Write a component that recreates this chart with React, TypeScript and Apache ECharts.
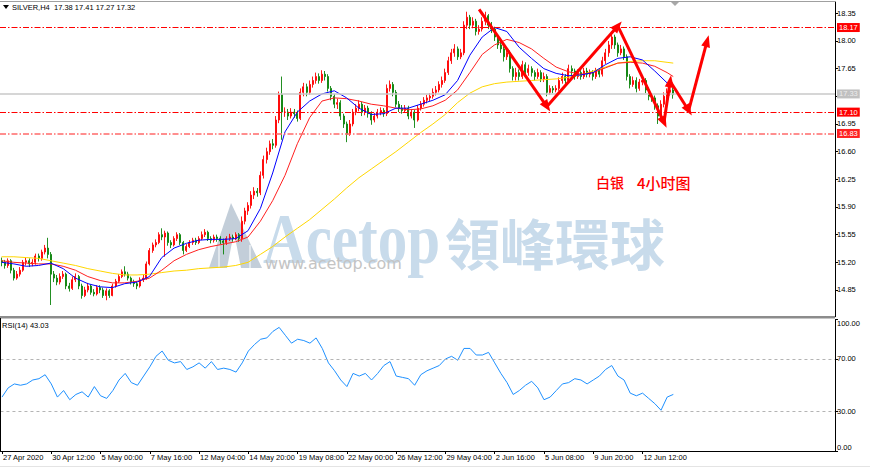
import React, { useEffect, useRef } from 'react';
import * as echarts from 'echarts';

// ---------- data ----------
const TIME_LABELS = ['27 Apr 2020', '30 Apr 12:00', '5 May 00:00', '7 May 16:00', '12 May 04:00', '14 May 20:00', '19 May 08:00', '22 May 00:00', '26 May 12:00', '29 May 04:00', '2 Jun 16:00', '5 Jun 08:00', '9 Jun 20:00', '12 Jun 12:00'];
const LABEL_EVERY = 16;
const TOTAL_SLOTS = 271;

const OPEN = [
  15.22,15.20,15.16,15.22,15.10,15.00,15.05,15.10,15.20,15.22,
  15.18,15.20,15.28,15.25,15.33,15.38,15.30,15.05,15.00,14.95,
  15.02,15.05,14.90,14.87,14.98,15.02,14.90,14.78,14.85,14.90,
  14.82,14.80,14.88,14.85,14.78,14.84,14.78,14.90,14.96,15.02,
  15.08,15.05,15.00,14.95,14.93,14.90,14.98,15.00,15.18,15.35,
  15.42,15.45,15.55,15.52,15.57,15.45,15.42,15.50,15.55,15.45,
  15.35,15.40,15.45,15.48,15.45,15.50,15.55,15.58,15.50,15.48,
  15.52,15.50,15.47,15.45,15.50,15.52,15.50,15.55,15.50,15.72,
  15.85,15.92,16.05,16.10,16.08,16.30,16.50,16.60,16.70,16.68,
  17.00,17.32,17.10,17.10,17.05,17.10,17.08,17.02,17.35,17.42,
  17.35,17.45,17.50,17.55,17.50,17.58,17.55,17.40,17.30,17.20,
  17.22,17.05,16.95,16.82,16.95,17.10,17.15,17.20,17.10,17.15,
  17.08,17.00,17.05,17.10,17.12,17.08,17.40,17.45,17.35,17.20,
  17.15,17.12,17.15,17.05,17.10,17.00,17.15,17.20,17.25,17.28,
  17.30,17.35,17.38,17.45,17.50,17.60,17.75,17.85,17.90,17.80,
  17.85,18.20,18.30,18.20,18.25,18.12,18.15,18.25,18.32,18.20,
  18.15,18.05,17.95,17.90,17.80,17.85,17.65,17.55,17.60,17.55,
  17.70,17.60,17.65,17.60,17.55,17.60,17.52,17.55,17.35,17.40,
  17.38,17.40,17.50,17.55,17.50,17.65,17.62,17.55,17.60,17.55,
  17.62,17.58,17.60,17.55,17.62,17.58,17.75,17.85,17.95,18.05,
  17.95,17.85,17.90,17.80,17.55,17.45,17.50,17.40,17.48,17.50,
  17.38,17.30,17.28,17.18,17.05,17.20,17.30,17.35,17.38,
];
const CLOSE = [
  15.20,15.16,15.22,15.10,15.00,15.05,15.10,15.20,15.22,15.18,
  15.20,15.28,15.25,15.33,15.38,15.30,15.05,15.00,14.95,15.02,
  15.05,14.90,14.87,14.98,15.02,14.90,14.78,14.85,14.90,14.82,
  14.80,14.88,14.85,14.78,14.84,14.78,14.90,14.96,15.02,15.08,
  15.05,15.00,14.95,14.93,14.90,14.98,15.00,15.18,15.35,15.42,
  15.45,15.55,15.52,15.57,15.45,15.42,15.50,15.55,15.45,15.35,
  15.40,15.45,15.48,15.45,15.50,15.55,15.58,15.50,15.48,15.52,
  15.50,15.47,15.45,15.50,15.52,15.50,15.55,15.50,15.72,15.85,
  15.92,16.05,16.10,16.08,16.30,16.50,16.60,16.70,16.68,17.00,
  17.32,17.10,17.10,17.05,17.10,17.08,17.02,17.35,17.42,17.35,
  17.45,17.50,17.55,17.50,17.58,17.55,17.40,17.30,17.20,17.22,
  17.05,16.95,16.82,16.95,17.10,17.15,17.20,17.10,17.15,17.08,
  17.00,17.05,17.10,17.12,17.08,17.40,17.45,17.35,17.20,17.15,
  17.12,17.15,17.05,17.10,17.00,17.15,17.20,17.25,17.28,17.30,
  17.35,17.38,17.45,17.50,17.60,17.75,17.85,17.90,17.80,17.85,
  18.20,18.30,18.20,18.25,18.12,18.15,18.25,18.32,18.20,18.15,
  18.05,17.95,17.90,17.80,17.85,17.65,17.55,17.60,17.55,17.70,
  17.60,17.65,17.60,17.55,17.60,17.52,17.55,17.35,17.40,17.38,
  17.40,17.50,17.55,17.50,17.65,17.62,17.55,17.60,17.55,17.62,
  17.58,17.60,17.55,17.62,17.58,17.75,17.85,17.95,18.05,17.95,
  17.85,17.90,17.80,17.55,17.45,17.50,17.40,17.48,17.50,17.38,
  17.30,17.28,17.18,17.05,17.20,17.30,17.35,17.38,17.32,
];
const LOW = [
  15.15,15.12,15.13,15.06,14.97,14.98,15.02,15.08,15.16,15.14,
  15.15,15.17,15.21,15.22,15.30,15.25,14.66,14.95,14.91,14.92,
  14.99,14.86,14.83,14.85,14.95,14.86,14.74,14.76,14.82,14.79,
  14.77,14.78,14.81,14.75,14.72,14.75,14.77,14.88,14.94,15.00,
  15.02,14.97,14.92,14.89,14.86,14.88,14.95,14.98,15.16,15.32,
  15.39,15.43,15.48,15.27,15.41,15.38,15.40,15.47,15.42,15.30,
  15.33,15.38,15.42,15.42,15.43,15.48,15.52,15.47,15.44,15.45,
  15.46,15.43,15.30,15.42,15.47,15.46,15.48,15.46,15.46,15.68,
  15.80,15.88,16.00,16.03,16.05,16.26,16.45,16.56,16.63,16.65,
  16.96,16.75,17.04,17.00,17.02,17.03,16.98,17.00,17.30,17.30,
  17.32,17.41,17.46,17.46,17.47,17.50,17.36,17.25,17.15,17.14,
  17.00,16.90,16.72,16.80,16.92,17.06,17.11,17.05,17.06,17.03,
  16.94,16.97,17.02,17.06,17.04,17.05,17.36,17.30,17.16,17.10,
  17.08,17.09,17.01,17.02,16.90,16.98,17.12,17.17,17.21,17.24,
  17.27,17.31,17.35,17.41,17.47,17.57,17.71,17.80,17.76,17.77,
  17.82,18.15,18.15,18.16,18.07,18.08,18.12,18.20,18.15,18.10,
  18.00,17.90,17.85,17.74,17.76,17.60,17.50,17.50,17.50,17.52,
  17.55,17.56,17.55,17.50,17.52,17.48,17.48,17.30,17.32,17.34,
  17.35,17.37,17.46,17.45,17.47,17.57,17.51,17.52,17.51,17.52,
  17.54,17.54,17.50,17.52,17.54,17.55,17.71,17.80,17.90,17.90,
  17.80,17.82,17.76,17.50,17.40,17.42,17.35,17.37,17.44,17.34,
  17.25,17.23,17.13,16.95,17.02,17.16,17.26,17.31,17.27,
];
const HIGH = [
  15.26,15.23,15.25,15.24,15.13,15.09,15.14,15.23,15.26,15.25,
  15.24,15.31,15.31,15.36,15.42,15.51,15.33,15.09,15.04,15.06,
  15.09,15.07,14.94,15.02,15.06,15.04,14.93,14.89,14.94,14.92,
  14.86,14.91,14.91,14.88,14.87,14.86,14.93,14.99,15.05,15.11,
  15.15,15.08,15.02,14.98,14.96,15.01,15.04,15.21,15.38,15.45,
  15.49,15.58,15.63,15.60,15.59,15.48,15.53,15.58,15.57,15.47,
  15.43,15.48,15.51,15.51,15.53,15.59,15.62,15.60,15.53,15.55,
  15.55,15.53,15.50,15.53,15.56,15.55,15.58,15.57,15.78,15.89,
  15.96,16.10,16.15,16.14,16.35,16.55,16.65,16.74,16.76,17.05,
  17.36,17.55,17.16,17.14,17.15,17.14,17.12,17.40,17.47,17.46,
  17.50,17.55,17.60,17.59,17.63,17.62,17.58,17.43,17.33,17.27,
  17.25,17.08,16.98,17.00,17.14,17.20,17.25,17.23,17.19,17.18,
  17.11,17.09,17.14,17.16,17.15,17.45,17.50,17.48,17.38,17.24,
  17.19,17.19,17.18,17.14,17.13,17.19,17.24,17.29,17.32,17.34,
  17.40,17.43,17.49,17.55,17.65,17.80,17.90,17.96,17.93,17.90,
  18.25,18.37,18.33,18.30,18.28,18.20,18.30,18.37,18.34,18.24,
  18.18,18.08,18.00,17.93,17.90,17.88,17.68,17.66,17.64,17.75,
  17.73,17.70,17.68,17.63,17.65,17.63,17.60,17.58,17.44,17.43,
  17.44,17.54,17.60,17.58,17.70,17.69,17.65,17.64,17.63,17.66,
  17.66,17.64,17.63,17.66,17.65,17.80,17.90,18.00,18.12,18.08,
  17.98,17.95,17.93,17.83,17.58,17.55,17.54,17.52,17.55,17.53,
  17.41,17.33,17.31,17.21,17.25,17.35,17.40,17.44,17.41,
];

// moving averages, read every MA_STEP bars
const MA_STEP = 4;
const MA_FAST = [
  15.20,15.18,15.15,15.16,15.19,15.12,15.00,14.93,14.89,14.88,
  14.93,14.95,15.02,15.26,15.38,15.44,15.48,15.49,15.49,15.50,
  15.60,15.88,16.33,16.85,17.10,17.24,17.33,17.37,17.28,17.15,
  17.07,17.08,17.15,17.15,17.20,17.25,17.32,17.50,17.82,18.05,
  18.17,18.12,17.92,17.78,17.65,17.59,17.56,17.57,17.60,17.70,
  17.78,17.80,17.76,17.62,17.47,17.43,
];
const MA_MID = [
  15.22,15.20,15.19,15.18,15.18,15.15,15.10,15.02,14.97,14.94,
  14.94,14.96,15.00,15.10,15.22,15.30,15.36,15.40,15.43,15.46,
  15.52,15.72,15.98,16.30,16.70,17.03,17.24,17.28,17.27,17.24,
  17.20,17.18,17.15,17.13,17.14,17.18,17.25,17.38,17.60,17.83,
  17.95,18.02,17.98,17.90,17.78,17.67,17.61,17.58,17.60,17.66,
  17.72,17.73,17.72,17.68,17.60,17.55,
];
const MA_SLOW = [
  15.27,15.27,15.26,15.25,15.22,15.19,15.16,15.12,15.09,15.06,
  15.04,15.04,15.05,15.07,15.09,15.10,15.12,15.13,15.14,15.16,
  15.20,15.30,15.40,15.52,15.63,15.74,15.87,16.00,16.14,16.27,
  16.38,16.49,16.60,16.72,16.84,16.95,17.07,17.22,17.34,17.42,
  17.46,17.48,17.49,17.50,17.51,17.52,17.54,17.57,17.62,17.67,
  17.72,17.74,17.75,17.75,17.73,17.72,
];

// RSI(14), read every RSI_STEP bars
const RSI_STEP = 2;
const RSI = [
  41,48,51,50,51,54,55,58,51,41,
  46,39,43,45,41,49,42,40,46,54,
  59,52,50,57,64,72,76,69,67,68,
  62,64,67,63,68,62,63,62,60,67,
  76,81,85,86,91,94,88,82,85,84,
  82,86,78,67,61,54,49,59,57,59,
  54,59,65,68,57,56,55,50,58,61,
  63,65,70,72,69,78,78,73,73,75,
  67,59,52,43,46,50,53,48,39,41,
  46,51,52,55,54,51,54,57,62,65,
  57,54,44,42,44,40,36,31,41,43.03,
];

const PRICE_MIN = 14.512;
const PRICE_MAX = 18.493;
const PRICE_TICKS = [14.85, 15.2, 15.55, 15.9, 16.25, 16.6, 16.95, 17.3, 17.65, 18.0, 18.35];
const RSI_TICKS = [0, 30, 70, 100];
const RSI_LEVELS = [70, 30];
const RESIST_LEVELS = [18.17, 17.1];
const SUPPORT_LEVEL = 16.83;
const BID = 17.33;
// zigzag annotation vertices: [bar index, price]
const ARROW_PATH = [[155, 18.4], [177, 17.17], [200, 18.19], [215, 16.97], [217, 17.49], [223, 17.12], [229, 18.0]];

// ---------- helpers ----------
const FONT = '"Liberation Sans", Arial, sans-serif';
const categories = Array.from({ length: TOTAL_SLOTS }, (_, i) =>
  i % LABEL_EVERY === 0 && TIME_LABELS[i / LABEL_EVERY] ? TIME_LABELS[i / LABEL_EVERY] : '_' + i
);
const isLabel = (_i: number, v: string) => !String(v).startsWith('_');
const lastIdx = CLOSE.length - 1;
const maData = (arr: number[]) => arr.map((v, k) => [Math.min(k * MA_STEP, lastIdx), v]);
const candles = OPEN.map((o, i) => [o, CLOSE[i], LOW[i], HIGH[i]]);
const dashDot = [6, 2, 1.5, 2];
// the bid tag covers the tick label right under it, as in the terminal
const PRICE_LABELS = PRICE_TICKS.filter((v) => Math.abs(v - BID) > 0.1);

const tagLabel = (text: string, bg: string, fg: string) => ({
  show: true,
  position: 'end',
  distance: 2,
  formatter: text,
  backgroundColor: bg,
  color: fg,
  fontSize: 7.5,
  fontFamily: FONT,
  padding: [1, 2, 0, 2],
});

export default function App() {
  const ref = useRef<HTMLDivElement>(null);
  useEffect(() => {
    if (!ref.current) return;
    const chart = echarts.init(ref.current, null, { renderer: 'svg' });
    const option: any = {
      animation: false,
      backgroundColor: '#ffffff',
      grid: [
        { left: 0, right: 35, top: 2, height: 314.7 },
        { left: 0, right: 35, top: 319.5, height: 131.5 },
      ],
      xAxis: [
        {
          type: 'category', gridIndex: 0, data: categories, boundaryGap: true,
          axisLine: { show: false }, axisTick: { show: false }, axisLabel: { show: false }, splitLine: { show: false },
        },
        {
          type: 'category', gridIndex: 1, data: categories, boundaryGap: true,
          axisLine: { show: true, lineStyle: { color: '#000', width: 1 } },
          axisTick: { show: true, alignWithLabel: true, interval: isLabel, length: 3, lineStyle: { color: '#000' } },
          axisLabel: {
            interval: isLabel, formatter: (v: string) => (v.startsWith('_') ? '' : v),
            align: 'left', margin: 2, fontSize: 7.5, fontFamily: FONT, color: '#000', padding: [0, 0, 0, 1],
          },
          splitLine: { show: false },
        },
      ],
      yAxis: [
        {
          type: 'value', gridIndex: 0, position: 'right', min: PRICE_MIN, max: PRICE_MAX,
          splitLine: { show: false },
          axisLine: { show: true, lineStyle: { color: '#000' } },
          axisTick: { show: true, length: 3, customValues: PRICE_TICKS, lineStyle: { color: '#000' } },
          axisLabel: { customValues: PRICE_LABELS, formatter: (v: number) => v.toFixed(2), margin: 2, fontSize: 7.5, fontFamily: FONT, color: '#000' },
        },
        {
          type: 'value', gridIndex: 1, position: 'right', min: 0, max: 100,
          splitLine: { show: false },
          axisLine: { show: true, lineStyle: { color: '#000' } },
          axisTick: { show: true, length: 3, customValues: RSI_TICKS, lineStyle: { color: '#000' } },
          axisLabel: {
            customValues: RSI_TICKS, formatter: (v: number) => v.toFixed(2), margin: 2, fontSize: 7.5, fontFamily: FONT, color: '#000',
            verticalAlignMinLabel: 'bottom', verticalAlignMaxLabel: 'top',
          },
        },
      ],
      series: [
        {
          type: 'candlestick', xAxisIndex: 0, yAxisIndex: 0, data: candles,
          barWidth: 1.5, large: false,
          itemStyle: { color: '#ff0000', color0: '#0a820a', borderColor: '#ff0000', borderColor0: '#0a820a', borderWidth: 0.9 },
          silent: true,
        },
        {
          type: 'line', xAxisIndex: 0, yAxisIndex: 0, data: maData(MA_SLOW), symbol: 'none', silent: true, clip: false,
          lineStyle: { color: '#ffd700', width: 1 },
          markLine: {
            silent: true, symbol: ['none', 'none'], animation: false,
            data: [
              { yAxis: RESIST_LEVELS[0], lineStyle: { color: '#ff0000', type: dashDot, width: 1 }, label: tagLabel(RESIST_LEVELS[0].toFixed(2), '#ff0000', '#ffffff') },
              { yAxis: BID, lineStyle: { color: '#c8c8c8', type: 'solid', width: 1.5 }, label: tagLabel(BID.toFixed(2), '#c0c0c0', '#ececec') },
              { yAxis: RESIST_LEVELS[1], lineStyle: { color: '#ff0000', type: dashDot, width: 1 }, label: tagLabel(RESIST_LEVELS[1].toFixed(2), '#ff0000', '#ffffff') },
              { yAxis: SUPPORT_LEVEL, lineStyle: { color: '#ff6a6a', type: dashDot, width: 1.6 }, label: tagLabel(SUPPORT_LEVEL.toFixed(2), '#ff2020', '#ffffff') },
            ],
          },
        },
        {
          type: 'line', xAxisIndex: 0, yAxisIndex: 0, data: maData(MA_MID), symbol: 'none', silent: true,
          lineStyle: { color: '#ff2020', width: 1 },
        },
        {
          type: 'line', xAxisIndex: 0, yAxisIndex: 0, data: maData(MA_FAST), symbol: 'none', silent: true, clip: false,
          lineStyle: { color: '#0000ff', width: 1 },
          markLine: {
            silent: true, animation: false, symbol: ['none', 'triangle'], symbolSize: [9, 12],
            label: { show: false },
            lineStyle: { color: '#ff0000', width: 3, type: 'solid' },
            data: ARROW_PATH.slice(1).map((p, k) => [{ coord: ARROW_PATH[k] }, { coord: p }]),
          },
        },
        {
          type: 'line', xAxisIndex: 1, yAxisIndex: 1, data: RSI.map((v, k) => [Math.min(k * RSI_STEP, lastIdx), v]),
          symbol: 'none', silent: true,
          lineStyle: { color: '#1e90ff', width: 1 },
          markLine: {
            silent: true, animation: false, symbol: ['none', 'none'], label: { show: false },
            lineStyle: { color: '#b4b4b4', type: [3, 3], width: 1 },
            data: RSI_LEVELS.map((v) => ({ yAxis: v })),
          },
        },
      ],
      graphic: [
        // watermark
        { type: 'polygon', z: 0, silent: true, shape: { points: [[231, 203], [209, 268], [262, 268]] }, style: { fill: '#c3ced9' } },
        { type: 'polygon', z: 0, silent: true, shape: { points: [[234, 232], [227, 268], [241, 268]] }, style: { fill: '#ffffff' } },
        { type: 'line', z: 0, silent: true, shape: { x1: 219, y1: 245, x2: 219, y2: 268 }, style: { stroke: 'rgba(255,255,255,0.7)', lineWidth: 1.5 } },
        { type: 'line', z: 0, silent: true, shape: { x1: 250, y1: 245, x2: 250, y2: 268 }, style: { stroke: 'rgba(255,255,255,0.7)', lineWidth: 1.5 } },
        { type: 'text', z: 0, silent: true, x: 263, y: 238, scaleX: 0.82, style: { text: 'Acetop', font: 'bold 72px "Liberation Serif", serif', fill: '#c8dbeb', verticalAlign: 'middle' } },
        { type: 'text', z: 0, silent: true, x: 445, y: 241, style: { text: '領峰環球', font: 'bold 55px "Noto Sans CJK TC", sans-serif', fill: '#c8dbeb', verticalAlign: 'middle' } },
        { type: 'text', z: 0, silent: true, x: 265, y: 263, style: { text: 'www.acetop.com', font: '16px "DejaVu Sans", sans-serif', fill: '#c4c4c4', verticalAlign: 'middle' } },
        // frame
        { type: 'line', z: 50, silent: true, shape: { x1: 0, y1: 1.5, x2: 835, y2: 1.5 }, style: { stroke: '#a0a0a0', lineWidth: 1 } },
        { type: 'rect', z: 50, silent: true, shape: { x: 0, y: 316, width: 835, height: 2.4 }, style: { fill: '#8c8c8c' } },
        { type: 'line', z: 50, silent: true, shape: { x1: 0.5, y1: 318, x2: 0.5, y2: 451 }, style: { stroke: '#000', lineWidth: 1 } },
        { type: 'line', z: 50, silent: true, shape: { x1: 0, y1: 466.5, x2: 870, y2: 466.5 }, style: { stroke: '#e4e4e4', lineWidth: 1 } },
        { type: 'polygon', z: 50, silent: true, shape: { points: [[671, 2], [679, 2], [675, 6]] }, style: { fill: '#a8a8a8' } },
        // header
        { type: 'polygon', z: 50, silent: true, shape: { points: [[3, 5], [9, 5], [6, 9]] }, style: { fill: '#000' } },
        { type: 'text', z: 50, silent: true, x: 12, y: 7.5, style: { text: 'SILVER,H4  17.38 17.41 17.27 17.32', font: '7.5px "Liberation Sans", Arial, sans-serif', fill: '#000', verticalAlign: 'middle' } },
        { type: 'text', z: 50, silent: true, x: 2, y: 325.5, style: { text: 'RSI(14) 43.03', font: '7.5px "Liberation Sans", Arial, sans-serif', fill: '#000', verticalAlign: 'middle' } },
        // annotation
        { type: 'text', z: 60, silent: true, x: 596, y: 182, style: { text: '白银', font: '500 14px "Noto Sans CJK SC", sans-serif', fill: '#ff0000', verticalAlign: 'middle' } },
        { type: 'text', z: 60, silent: true, x: 637, y: 182, style: { text: '4小时图', font: '500 15px "Noto Sans CJK SC", sans-serif', fill: '#ff0000', verticalAlign: 'middle' } },
      ],
    };
    chart.setOption(option);
    return () => chart.dispose();
  }, []);
  return <div ref={ref} style={{ position: 'fixed', left: 0, top: 0, width: 870, height: 469, background: '#fff' }} />;
}
